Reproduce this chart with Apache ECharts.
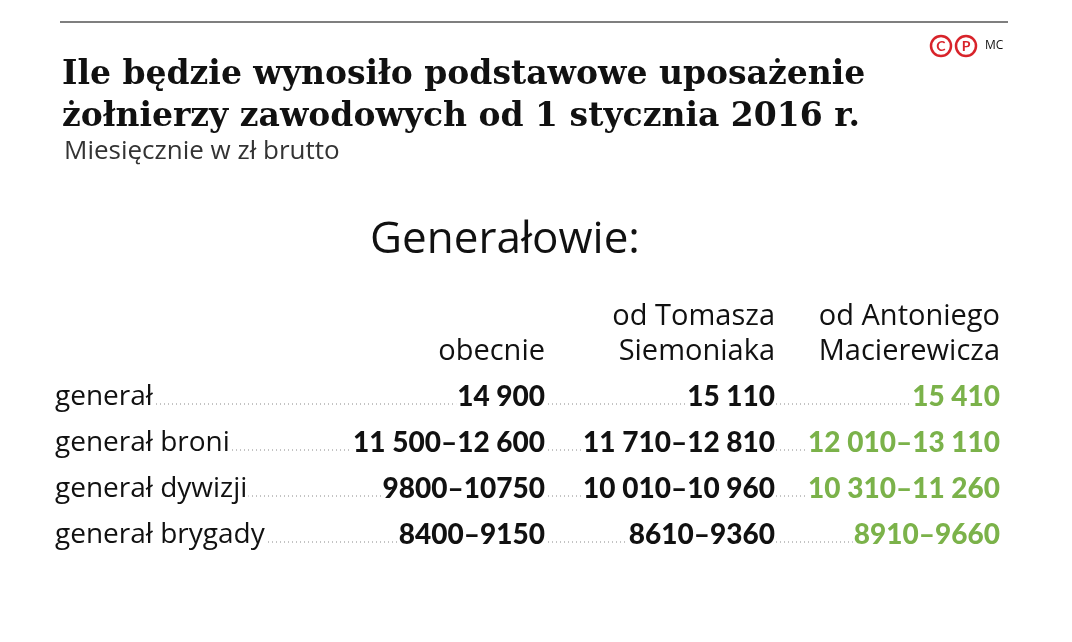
<!DOCTYPE html>
<html><head><meta charset="utf-8">
<script src="https://cdn.jsdelivr.net/npm/echarts@6/dist/echarts.min.js"></script>
<style>html,body{margin:0;background:#fff}#c{width:1072px;height:642px}</style>
</head><body><div id="c"></div>
<script>
const categories = ['generał', 'generał broni', 'generał dywizji', 'generał brygady']
const obecnie = ['14 900', '11 500–12 600', '9800–10750', '8400–9150']
const siemoniak = ['15 110', '11 710–12 810', '10 010–10 960', '8610–9360']
const macierewicz = ['15 410', '12 010–13 110', '10 310–11 260', '8910–9660']
const columnHeads = [['', 'obecnie'], ['od Tomasza', 'Siemoniaka'], ['od Antoniego', 'Macierewicza']]

const chart = echarts.init(document.getElementById('c'))
const font = '"Open Sans", sans-serif'
const bold = '900 28px Lato, sans-serif'
const colX = [545, 775, 1000]
const colColor = ['#111', '#111', '#7bb24a']
const cols = [obecnie, siemoniak, macierewicz]
const els = []

// y here is the text bottom (baseline + descender)
const txt = (x, y, text, o) => els.push({
  type: 'text', x, y, z: 3,
  style: Object.assign({ text, fill: '#111', font: '22px ' + font, textVerticalAlign: 'bottom' }, o)
})

els.push({ type: 'line', shape: { x1: 60, y1: 22, x2: 1008, y2: 22 }, style: { stroke: '#555', lineWidth: 1.5 } })
txt(62, 92, 'Ile będzie wynosiło podstawowe uposażenie', { font: 'bold 33px "DejaVu Serif", serif' })
txt(62, 134, 'żołnierzy zawodowych od 1 stycznia 2016 r.', { font: 'bold 33px "DejaVu Serif", serif' })
txt(64, 165, 'Miesięcznie w zł brutto', { font: '26px ' + font, fill: '#333' })
txt(505, 262, 'Generałowie:', { font: '44px ' + font, textAlign: 'center' })

// logo
;[['C', 941], ['P', 966]].forEach(([l, x]) => {
  els.push({ type: 'circle', shape: { cx: x, cy: 46, r: 10 }, style: { fill: 'none', stroke: '#d8232a', lineWidth: 2.5 } })
  els.push({ type: 'text', x, y: 46, z: 3, style: { text: l, font: 'bold 14px Lato, sans-serif', fill: '#d8232a', textAlign: 'center', textVerticalAlign: 'middle' } })
})
els.push({ type: 'text', x: 985, y: 46, z: 3, style: { text: 'MC', font: '12px ' + font, fill: '#111', textVerticalAlign: 'middle' } })

columnHeads.forEach((h, i) => {
  txt(colX[i], 331, h[0], { font: '29px ' + font, textAlign: 'right' })
  txt(colX[i], 366, h[1], { font: '29px ' + font, textAlign: 'right' })
})

categories.forEach((c, r) => {
  const y = 404 + r * 46
  els.push({ type: 'line', z: 1, shape: { x1: 56, y1: y, x2: 1000, y2: y }, style: { stroke: '#888', lineWidth: 1, lineDash: [1, 3] } })
  txt(55, y + 7, c, { font: '28px ' + font, backgroundColor: '#fff', padding: [0, 1, 0, 0] })
  cols.forEach((arr, i) => txt(colX[i], y + 7, arr[r], {
    font: bold, fill: colColor[i], textAlign: 'right', backgroundColor: '#fff', padding: [0, 0, 0, 1]
  }))
})

chart.setOption({ graphic: { elements: els } })
</script></body></html>
